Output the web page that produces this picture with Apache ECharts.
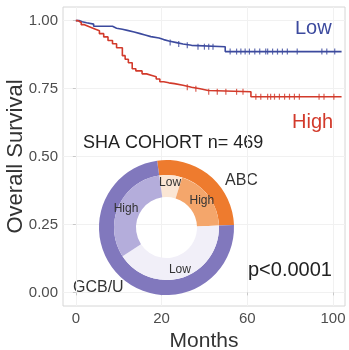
<!DOCTYPE html>
<html>
<head>
<meta charset="utf-8">
<script src="https://cdn.jsdelivr.net/npm/echarts@6/dist/echarts.min.js"></script>
<style>
  html, body { margin: 0; padding: 0; background: #ffffff; }
  #chart { width: 349px; height: 350px; }
</style>
</head>
<body>
<div id="chart"></div>
<script>
// Axis ticks
const xTickValues = [0, 40, 80, 120];
const xTickLabels = ['0', '20', '60', '100'];
const yTickValues = [0, 0.25, 0.5, 0.75, 1];

// Kaplan-Meier steps, low-risk group
const lowTimes = [0, 1.5, 3, 5, 8.3, 17.1, 19, 21.7, 24, 27.2, 30, 32.3, 35, 38.8, 41, 43.4, 47, 50, 54, 69.7];
const lowSurv  = [1.0, 0.996, 0.992, 0.987, 0.979, 0.972, 0.968, 0.964, 0.958, 0.952, 0.947, 0.941, 0.936, 0.930, 0.925, 0.919, 0.914, 0.909, 0.904, 0.886];
const lowCensor = [44, 48, 52, 57, 60, 62, 64, 72, 75, 77, 79, 81, 83.5, 85.8, 88.6, 89.5, 91.8, 94.1, 96.4, 98.7, 103.3, 114.8, 117.1, 120.8];

// Kaplan-Meier steps, high-risk group
const highTimes = [0, 1, 2.5, 4, 6, 8, 9.2, 11, 13, 15, 17.1, 19, 21.7, 23, 24.5, 26.3, 28, 30.9, 33, 35.5, 37.5, 39.2, 41, 43.4, 46, 50, 54, 58, 61.8, 81.7];
const highSurv  = [1.0, 0.993, 0.985, 0.978, 0.972, 0.968, 0.963, 0.952, 0.940, 0.927, 0.915, 0.900, 0.871, 0.858, 0.845, 0.823, 0.815, 0.804, 0.798, 0.793, 0.785, 0.775, 0.771, 0.768, 0.762, 0.755, 0.749, 0.743, 0.738, 0.720];
const highCensor = [52, 56, 62, 66, 70, 75, 78, 84, 86.3, 89.5, 90.9, 92.7, 95, 97.4, 99.7, 102, 104.3, 113.5, 115.8, 120.4];

const followEnd = 124;

// Cohort composition (outer ring: cell of origin, inner ring: risk group)
const cohortGroups = ['ABC', 'GCB/U'];
const cohortCounts = [125, 344];
const subgroupNames = ['Low', 'High', 'Low', 'High'];
const subgroupCounts = [33, 92, 194, 150];

const BLUE = '#3c4a9e';
const RED = '#d23a2b';
const FONT = '"Liberation Sans", Arial, sans-serif';

function stepPoints(times, surv) {
  const pts = times.map((t, i) => [t, surv[i]]);
  pts.push([followEnd, surv[surv.length - 1]]);
  return pts;
}
function survivalAt(times, surv, t) {
  let s = surv[0];
  for (let i = 0; i < times.length; i++) { if (times[i] <= t) s = surv[i]; }
  return s;
}
function censorPoints(times, surv, cens) {
  return cens.map(t => [t, survivalAt(times, surv, t)]);
}

const chart = echarts.init(document.getElementById('chart'), null, { renderer: 'canvas' });

const option = {
  backgroundColor: '#ffffff',
  animation: false,
  textStyle: { fontFamily: FONT },
  grid: {
    left: 63, top: 7, right: 4, bottom: 44, containLabel: false, outerBoundsMode: 'none',
    show: true, borderColor: '#d6d6d6', borderWidth: 1, backgroundColor: '#ffffff'
  },
  xAxis: {
    type: 'value', min: -6, max: 125.6,
    axisLine: { show: false },
    axisTick: { show: true, customValues: xTickValues, length: 3, lineStyle: { color: '#c8c8c8' } },
    axisLabel: {
      customValues: xTickValues, color: '#4d4d4d', fontSize: 15, margin: 5, fontFamily: FONT,
      formatter: v => xTickLabels[xTickValues.indexOf(v)]
    },
    splitLine: { show: true, customValues: xTickValues, lineStyle: { color: '#f1f1f1', width: 1 } },
    name: 'Months', nameLocation: 'middle', nameGap: 24,
    nameTextStyle: { fontSize: 21, color: '#333333', fontFamily: FONT }
  },
  yAxis: {
    type: 'value', min: -0.05, max: 1.05,
    axisLine: { show: false },
    axisTick: { show: true, customValues: yTickValues, length: 3, lineStyle: { color: '#c8c8c8' } },
    axisLabel: {
      customValues: yTickValues, color: '#4d4d4d', fontSize: 15, margin: 5, fontFamily: FONT,
      formatter: v => v.toFixed(2)
    },
    splitLine: { show: true, customValues: yTickValues, lineStyle: { color: '#f1f1f1', width: 1 } },
    name: 'Overall Survival', nameLocation: 'middle', nameGap: 36, nameMoveOverlap: false,
    nameTextStyle: { fontSize: 22, color: '#333333', fontFamily: FONT }
  },
  series: [
    {
      name: 'Low', type: 'line', step: 'end', data: stepPoints(lowTimes, lowSurv),
      showSymbol: false, lineStyle: { color: BLUE, width: 1.6 }, z: 3
    },
    {
      name: 'High', type: 'line', step: 'end', data: stepPoints(highTimes, highSurv),
      showSymbol: false, lineStyle: { color: RED, width: 1.6 }, z: 3
    },
    {
      name: 'Low censored', type: 'scatter', data: censorPoints(lowTimes, lowSurv, lowCensor),
      symbol: 'rect', symbolSize: [1.2, 6], itemStyle: { color: BLUE }, z: 3
    },
    {
      name: 'High censored', type: 'scatter', data: censorPoints(highTimes, highSurv, highCensor),
      symbol: 'rect', symbolSize: [1.2, 6], itemStyle: { color: RED }, z: 3
    },
    {
      name: 'Cell of origin', type: 'pie', center: [166.5, 227.5], radius: [52.5, 67.5],
      startAngle: 98, clockwise: true, silent: true, z: 4,
      label: { show: false }, labelLine: { show: false },
      data: cohortGroups.map((g, i) => ({
        name: g, value: cohortCounts[i],
        itemStyle: { color: i === 0 ? '#ee7b2e' : '#8178bd' }
      }))
    },
    {
      name: 'Risk group', type: 'pie', center: [166.5, 227.5], radius: [30.5, 52.5],
      startAngle: 98, clockwise: true, silent: true, z: 4,
      label: { show: true, position: 'inside', color: '#333333', fontSize: 12, fontFamily: FONT, formatter: '{b}' },
      labelLine: { show: false },
      data: subgroupNames.map((n, i) => ({
        name: n, value: subgroupCounts[i],
        itemStyle: { color: ['#fbe6d4', '#f4a66b', '#f1eff8', '#b4addb'][i] }
      }))
    }
  ],
  graphic: [
    { type: 'text', left: 295, top: 18, style: { text: 'Low', fill: BLUE, font: '20px ' + FONT } },
    { type: 'text', left: 292, top: 112, style: { text: 'High', fill: RED, font: '20px ' + FONT } },
    { type: 'text', left: 83, top: 134, style: { text: 'SHA COHORT n= 469', fill: '#222222', font: '18px ' + FONT } },
    { type: 'text', left: 225, top: 173, style: { text: 'ABC', fill: '#333333', font: '16px ' + FONT } },
    { type: 'text', left: 73, top: 280, style: { text: 'GCB/U', fill: '#333333', font: '16px ' + FONT } },
    { type: 'text', left: 248, top: 260, style: { text: 'p<0.0001', fill: '#222222', font: '20px ' + FONT } }
  ]
};

chart.setOption(option);
</script>
</body>
</html>
